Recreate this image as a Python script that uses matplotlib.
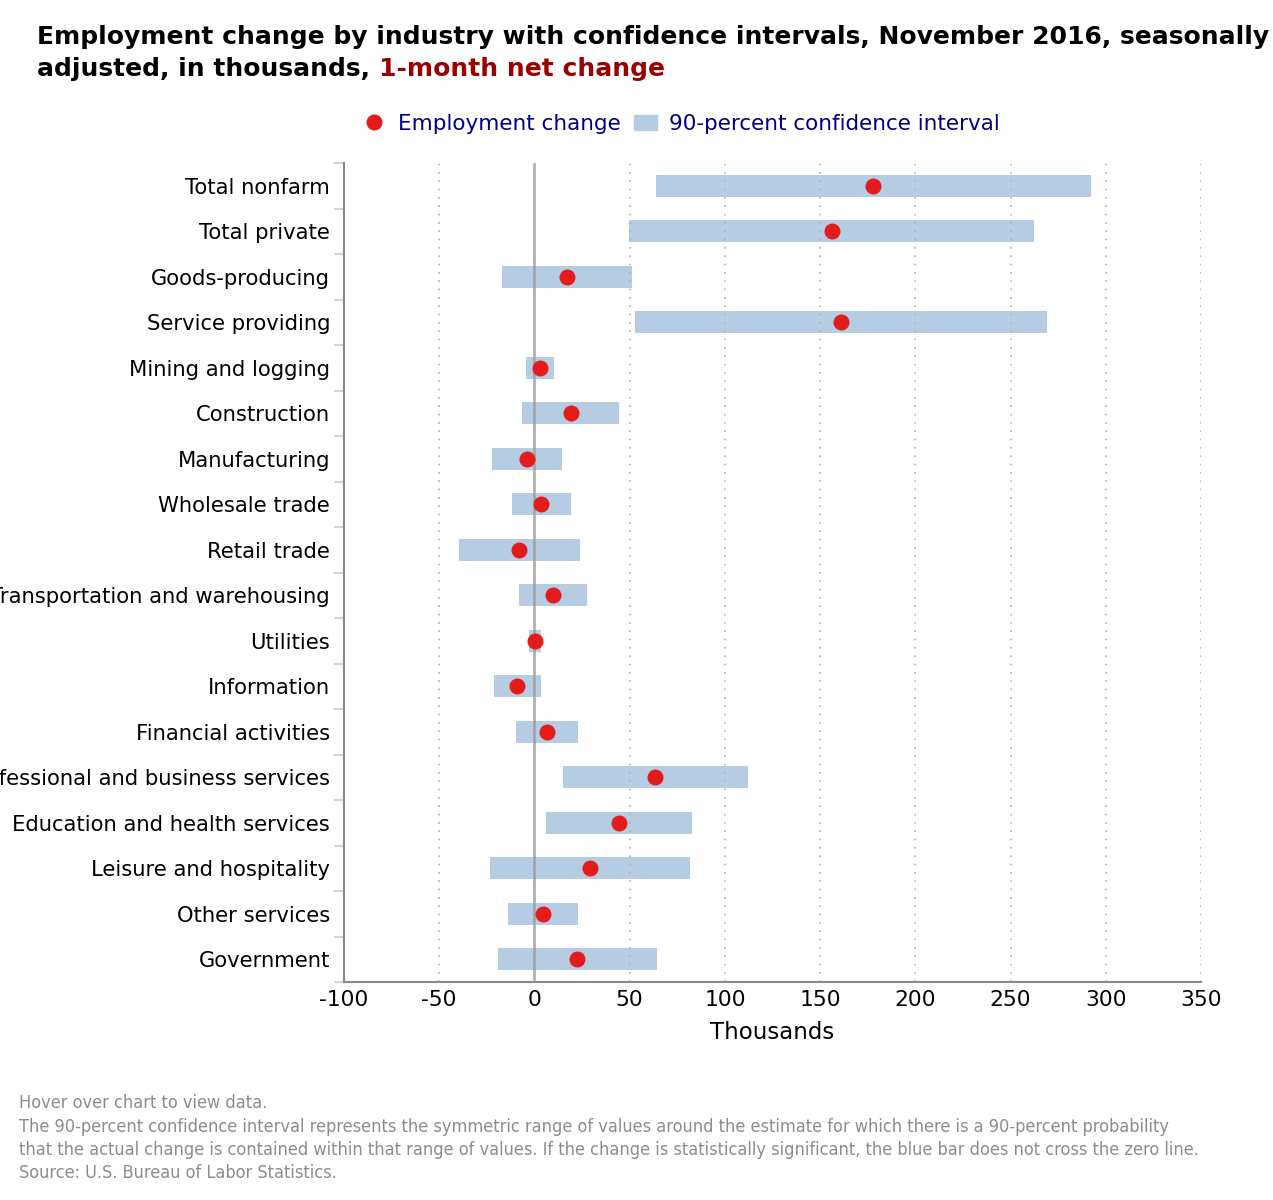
import numpy as np
import matplotlib
matplotlib.use("Agg")
import matplotlib.pyplot as plt
from matplotlib.lines import Line2D
from matplotlib.patches import Patch

# datos (miles)
industrias = ["Total nonfarm", "Total private", "Goods-producing", "Service providing",
              "Mining and logging", "Construction", "Manufacturing", "Wholesale trade",
              "Retail trade", "Transportation and warehousing", "Utilities", "Information",
              "Financial activities", "Professional and business services",
              "Education and health services", "Leisure and hospitality",
              "Other services", "Government"]
cambio = [178, 156, 17, 161, 3, 19, -4, 3.5, -8, 9.7, 0.5, -9, 6.5, 63.5, 44.6, 29.4, 4.7, 22.6]
intervalo = [114, 106.5, 34, 108, 7.5, 25.5, 18.5, 15.5, 31.7, 18, 3.2, 12.2, 16.3, 48.4, 38.3, 52.5, 18.4, 41.5]
xticks = [-100, -50, 0, 50, 100, 150, 200, 250, 300, 350]

azul = "#b5cce3"
rojo = "#e41b1b"
gris = "#888888"

fig = plt.figure(figsize=(12.73, 12), dpi=100)
ax = fig.add_axes([344 / 1273, 1 - 982 / 1200, (1201 - 344) / 1273, (982 - 163) / 1200])

y = np.arange(len(industrias))
cambio = np.array(cambio)
intervalo = np.array(intervalo)

ax.barh(y, 2 * intervalo, left=cambio - intervalo, height=0.48, color=azul, zorder=2)
ax.axvline(0, color="#999999", lw=2, alpha=0.75, zorder=3)
ax.plot(cambio, y, "o", color=rojo, ms=10.5, zorder=4)

for t in xticks:
    if t not in (0, -100):
        ax.axvline(t, color="#b0b0b0", lw=1.2, ls=(0, (1, 4)), zorder=2.5)

ax.set_xlim(-100, 350)
ax.set_ylim(len(industrias) - 0.5, -0.5)
ax.set_xticks(xticks)
ax.set_xticklabels([str(t) for t in xticks], fontsize=15.7)
ax.tick_params(axis="x", length=0, pad=6)

ax.set_yticks(y)
ax.set_yticklabels(industrias, fontsize=15.2)
ax.tick_params(axis="y", which="major", length=0, pad=10)
ax.set_yticks(np.arange(-0.5, len(industrias)), minor=True)
ax.tick_params(axis="y", which="minor", length=7, width=1.5, color="#ccd6eb")

for s in ["top", "right"]:
    ax.spines[s].set_visible(False)
ax.spines["left"].set_color(gris)
ax.spines["left"].set_linewidth(1.5)
ax.spines["bottom"].set_color(gris)
ax.spines["bottom"].set_linewidth(1.5)

ax.set_xlabel("Thousands", fontsize=16.5, labelpad=8)

# titulo en dos colores
fig.text(37 / 1273, 1 - 37 / 1200, "Employment change by industry with confidence intervals, November 2016, seasonally",
         fontsize=18.0, fontweight="bold", va="center", ha="left")
t2 = fig.text(37 / 1273, 1 - 69 / 1200, "adjusted, in thousands, ",
              fontsize=18.0, fontweight="bold", va="center", ha="left")
fig.canvas.draw()
bb = t2.get_window_extent()
fig.text(bb.x1 / fig.bbox.width, 1 - 69 / 1200, "1-month net change",
         fontsize=18.0, fontweight="bold", va="center", ha="left", color="#990000")

manejadores = [Line2D([], [], marker="o", ls="", color=rojo, ms=10.5),
               Patch(facecolor=azul, edgecolor=azul)]
fig.legend(manejadores, ["Employment change", "90-percent confidence interval"],
           loc="center", bbox_to_anchor=(0.535, 1 - 124 / 1200), ncol=2, frameon=False,
           fontsize=15.5, labelcolor="#000080", handlelength=1.1, handletextpad=0.55,
           columnspacing=0.6)

notas = ["Hover over chart to view data.",
         "The 90-percent confidence interval represents the symmetric range of values around the estimate for which there is a 90-percent probability",
         "that the actual change is contained within that range of values. If the change is statistically significant, the blue bar does not cross the zero line.",
         "Source: U.S. Bureau of Labor Statistics."]
for i, n in enumerate(notas):
    fig.text(19 / 1273, 1 - (1103 + i * 23.5) / 1200, n, fontsize=13.0, color="#8c8c8c",
             va="center", ha="left", stretch="condensed")

fig.savefig("out.png", dpi=100)
